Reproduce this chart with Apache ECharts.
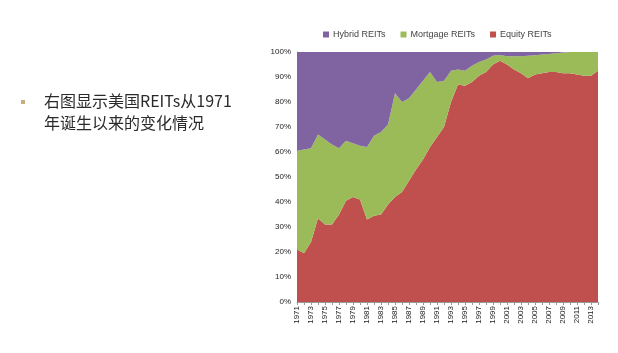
<!DOCTYPE html>
<html>
<head>
<meta charset="utf-8">
<script src="https://cdn.jsdelivr.net/npm/echarts@6/dist/echarts.min.js"></script>
<style>
  html, body { margin: 0; padding: 0; background: #fff; }
  #chart { width: 618px; height: 353px; }
</style>
</head>
<body>
<div id="chart"></div>
<script>
// years 1971 - 2014
var years = [];
for (var y = 1971; y <= 2014; y++) { years.push(String(y)); }

// share of equity REITs (%)
var equity = [21, 19.5, 24, 33.5, 31, 31, 35, 40.5, 42, 41,
  33, 34.5, 35, 39, 42, 44, 48.5, 53, 57, 62,
  66, 70, 80, 87, 86.5, 88, 90.5, 92, 95, 96.5,
  95, 93, 91.5, 89.5, 91, 91.5, 92, 92, 91.5, 91.5,
  91, 90.5, 90.5, 92.5];
// share of mortgage REITs (%)
var mortgage = [39.5, 41.5, 37.5, 33.5, 34, 32, 26.5, 24, 21.5, 21.5,
  29, 32, 33, 32, 41.5, 36, 33, 32, 31.5, 30,
  22, 18.5, 12.5, 6, 6, 6.5, 5.5, 5, 3.5, 2.3,
  3.3, 5.3, 6.8, 9, 7.7, 7.5, 7.2, 7.5, 8.3, 8.5,
  9, 9.5, 9.5, 7.5];
// share of hybrid REITs (%)
var hybrid = [39.5, 39, 38.5, 33, 35, 37, 38.5, 35.5, 36.5, 37.5,
  38, 33.5, 32, 29, 16.5, 20, 18.5, 15, 11.5, 8,
  12, 11.5, 7.5, 7, 7.5, 5.5, 4, 3, 1.5, 1.2,
  1.7, 1.7, 1.7, 1.5, 1.3, 1, 0.8, 0.5, 0.2, 0,
  0, 0, 0, 0];

var names = ['Hybrid REITs', 'Mortgage REITs', 'Equity REITs'];
var colors = { 'Hybrid REITs': '#8064A2', 'Mortgage REITs': '#9BBB59', 'Equity REITs': '#C0504D' };

function area(name, data) {
  return {
    name: name,
    type: 'line',
    stack: 'total',
    data: data,
    symbol: 'none',
    lineStyle: { width: 0 },
    areaStyle: { color: colors[name], opacity: 1 },
    itemStyle: { color: colors[name] }
  };
}

var chart = echarts.init(document.getElementById('chart'));
chart.setOption({
  animation: false,
  textStyle: { fontFamily: 'Liberation Sans' },
  legend: {
    data: names,
    left: 318,
    top: 25,
    itemWidth: 6,
    itemHeight: 6,
    itemGap: 15,
    icon: 'rect',
    textStyle: { fontSize: 9, color: '#444', padding: [0, 0, 0, -1] }
  },
  grid: { left: 297, right: 20, top: 52, bottom: 51 },
  xAxis: {
    type: 'category',
    data: years,
    boundaryGap: false,
    axisLine: { lineStyle: { color: '#999', width: 1 } },
    axisTick: { show: true, interval: 0, length: 3, lineStyle: { color: '#999' } },
    axisLabel: { rotate: 90, interval: 1, fontSize: 8, color: '#222', margin: 4 }
  },
  yAxis: {
    type: 'value',
    min: 0,
    max: 100,
    interval: 10,
    axisLine: { show: true, lineStyle: { color: '#999', width: 1 } },
    axisTick: { show: false },
    splitLine: { show: false },
    axisLabel: { formatter: '{value}%', fontSize: 8, color: '#222', margin: 6 }
  },
  series: [
    area('Equity REITs', equity),
    area('Mortgage REITs', mortgage),
    area('Hybrid REITs', hybrid)
  ],
  graphic: [
    { type: 'rect', shape: { x: 21, y: 100, width: 4, height: 4 }, style: { fill: '#C4AE84' } },
    { type: 'text', left: 44, top: 93, style: { text: '右图显示美国REITs从1971', fontSize: 16, fill: '#2a2a2a', fontFamily: 'Noto Sans CJK SC' } },
    { type: 'text', left: 44, top: 115, style: { text: '年诞生以来的变化情况', fontSize: 16, fill: '#2a2a2a', fontFamily: 'Noto Sans CJK SC' } }
  ]
});
</script>
</body>
</html>
